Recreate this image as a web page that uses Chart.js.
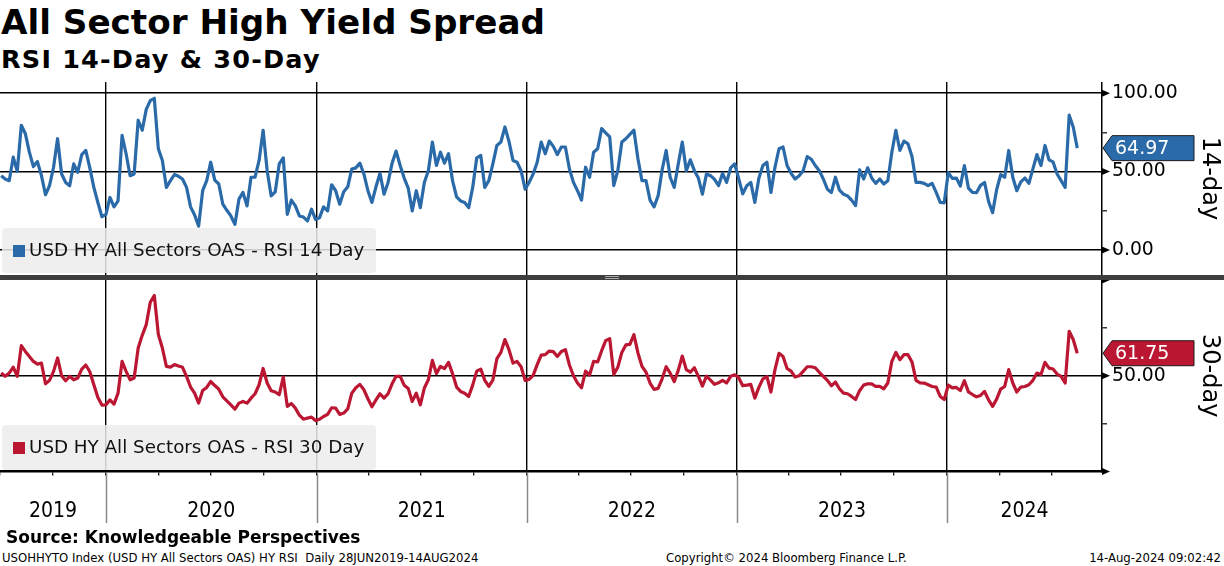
<!DOCTYPE html>
<html>
<head>
<meta charset="utf-8">
<script src="https://cdn.jsdelivr.net/npm/chart.js@4.4.1/dist/chart.umd.min.js"></script>
<style>
  body { margin: 0; width: 1224px; height: 566px; background: #fff; overflow: hidden; position: relative; color: #000; }
  .t { position: absolute; white-space: nowrap; }
  #title { left: 1px; top: 2px; font: bold 34.2px 'DejaVu Sans', sans-serif; }
  #subtitle { left: 1px; top: 44px; font: bold 25.5px 'DejaVu Sans', sans-serif; letter-spacing: 1.2px; }
  #source { left: 6px; top: 527px; font: bold 17px 'DejaVu Sans', sans-serif; }
  .foot { top: 550px; font: 13px 'DejaVu Sans Condensed', 'DejaVu Sans', sans-serif; }
  canvas { position: absolute; left: 0; }
  .legend { position: absolute; left: 2px; width: 374px; height: 45px; background: rgba(236,236,236,0.85); border-radius: 4px; }
  .legend span.box { position: absolute; left: 11px; top: 17px; width: 12px; height: 12px; }
  .legend span.txt { position: absolute; left: 27px; top: 11px; font: 18.3px 'DejaVu Sans', sans-serif; color: #111; white-space: nowrap; }
  #bar { position: absolute; left: 0; top: 275px; width: 1224px; height: 5px; background: #3e3e3e; }
  #grip { position: absolute; left: 605px; top: 276px; width: 14px; height: 1px; border-top: 1px solid #aaa; border-bottom: 1px solid #aaa; }
</style>
</head>
<body>
<div class="t" id="title">All Sector High Yield Spread</div>
<div class="t" id="subtitle">RSI 14-Day &amp; 30-Day</div>

<canvas id="c14" width="1224" height="193" style="top:82px"></canvas>
<canvas id="c30" width="1224" height="250" style="top:280px"></canvas>

<div id="bar"></div><div id="grip"></div>

<div class="legend" style="top:228px"><span class="box" style="background:#2a6aa8"></span><span class="txt">USD HY All Sectors OAS - RSI 14 Day</span></div>
<div class="legend" style="top:425px"><span class="box" style="background:#bb1632"></span><span class="txt">USD HY All Sectors OAS - RSI 30 Day</span></div>

<div class="t" id="source">Source: Knowledgeable Perspectives</div>
<div class="t foot" style="left:2px">USOHHYTO Index (USD HY All Sectors OAS) HY RSI&nbsp; Daily 28JUN2019-14AUG2024</div>
<div class="t foot" style="left:666px">Copyright© 2024 Bloomberg Finance L.P.</div>
<div class="t foot" style="right:3px">14-Aug-2024 09:02:42</div>

<script>
// weekly readings (Wednesdays), first week and the last point 14-Aug-2024
const firstWeek = "2019-07-03";
const axisStart = "2019-07-01";
const axisEnd = "2024-09-26";
const years = [2019, 2020, 2021, 2022, 2023, 2024];

const rsi14 = [
  47.4, 45.3, 44.2, 59.2, 50.2, 79.6, 74.2, 62.4, 53.2, 56.4,
  47.4, 35.2, 41.0, 52.8, 71.0, 48.5, 43.1, 41.0, 54.9, 49.6,
  60.9, 63.5, 52.4, 39.9, 30.3, 21.2, 22.7, 33.5, 27.5, 31.3,
  73.2, 61.4, 47.4, 48.5, 82.8, 76.4, 89.7, 95.3, 96.8, 64.6,
  57.1, 39.9, 44.2, 48.1, 47.0, 45.3, 39.9, 27.5, 22.3, 15.2,
  37.8, 44.2, 56.0, 44.6, 42.1, 29.2, 25.3, 21.7, 16.3, 32.4,
  36.7, 28.1, 46.4, 46.4, 57.1, 76.4, 50.6, 34.5, 37.1, 54.9,
  58.8, 22.7, 31.8, 28.1, 21.7, 21.0, 18.5, 26.0, 19.5, 20.6,
  27.5, 24.9, 41.6, 37.8, 29.2, 37.1, 40.3, 51.7, 52.4, 55.4,
  48.5, 37.8, 30.3, 40.3, 48.9, 35.6, 43.1, 55.4, 63.1, 53.9,
  45.9, 39.5, 24.9, 37.8, 27.0, 43.1, 50.6, 68.9, 53.9, 62.4,
  55.4, 61.4, 44.2, 33.9, 31.3, 30.3, 27.0, 39.9, 58.8, 60.3,
  39.9, 44.2, 54.9, 66.7, 68.9, 78.5, 69.3, 57.1, 56.0, 50.6,
  38.8, 43.1, 48.5, 56.0, 68.9, 61.4, 69.5, 66.1, 60.9, 65.7,
  65.7, 51.7, 43.1, 37.8, 31.8, 52.8, 46.4, 62.4, 64.6, 77.5,
  74.7, 72.1, 41.0, 50.6, 68.9, 71.0, 73.8, 76.4, 58.2, 44.2,
  44.2, 31.8, 27.5, 34.5, 51.1, 63.5, 46.4, 39.9, 54.9, 68.9,
  50.6, 57.5, 50.6, 45.9, 35.6, 48.5, 47.4, 45.1, 41.0, 48.9,
  43.1, 52.4, 54.9, 45.5, 35.8, 41.0, 43.1, 30.3, 45.7, 53.9,
  56.0, 36.7, 52.8, 64.6, 65.7, 53.9, 48.9, 45.3, 47.4, 50.6,
  59.6, 57.9, 53.9, 50.6, 45.3, 38.8, 36.7, 46.4, 38.2, 35.6,
  34.5, 31.8, 28.3, 51.1, 45.3, 52.4, 45.9, 42.5, 45.3, 42.1,
  44.2, 62.4, 76.4, 63.5, 69.5, 67.8, 59.6, 43.1, 43.1, 42.5,
  41.0, 42.5, 36.7, 30.3, 30.1, 49.4, 45.7, 45.9, 40.8, 53.9,
  39.5, 36.7, 36.5, 41.2, 43.1, 30.9, 23.8, 38.4, 48.1, 46.4,
  63.5, 46.4, 37.8, 43.4, 45.9, 42.5, 51.7, 60.9, 53.9, 66.7,
  57.5, 56.2, 48.5, 44.2, 39.9, 86.0, 78.5, 64.97
];

const rsi30 = [
  51.4, 49.7, 51.4, 54.5, 49.7, 65.7, 62.7, 60.1, 57.5, 56.1,
  56.6, 45.8, 47.6, 52.3, 59.3, 50.0, 47.4, 49.7, 47.9, 48.8,
  53.5, 55.6, 52.1, 45.3, 38.7, 34.7, 34.8, 37.4, 35.2, 40.9,
  57.5, 52.3, 47.9, 48.8, 64.5, 71.1, 76.7, 88.4, 91.9, 71.6,
  64.5, 54.9, 54.5, 55.8, 55.1, 54.4, 49.7, 44.1, 40.9, 35.7,
  42.3, 43.9, 47.0, 44.9, 43.0, 39.0, 36.9, 34.8, 32.6, 35.7,
  36.6, 35.7, 38.3, 40.6, 45.3, 53.8, 46.2, 42.2, 41.5, 40.1,
  49.3, 34.0, 35.5, 33.1, 29.4, 27.3, 27.9, 28.4, 26.6, 27.3,
  28.7, 29.8, 33.3, 33.1, 29.8, 30.5, 32.7, 40.9, 43.7, 45.5,
  42.7, 38.0, 33.8, 37.4, 40.6, 38.3, 40.6, 45.8, 49.7, 49.7,
  45.1, 43.4, 36.6, 40.9, 34.8, 43.6, 47.9, 58.0, 51.2, 54.9,
  53.7, 57.0, 51.1, 44.1, 41.8, 40.9, 39.2, 45.1, 52.4, 53.5,
  47.6, 44.4, 47.7, 58.9, 62.2, 68.9, 63.6, 56.6, 57.5, 54.7,
  47.6, 48.1, 50.2, 55.8, 60.8, 61.0, 62.9, 62.6, 60.0, 62.7,
  63.6, 55.6, 50.0, 46.2, 43.7, 52.4, 50.4, 57.5, 57.2, 63.1,
  68.3, 69.4, 50.7, 54.4, 62.2, 66.1, 66.4, 71.5, 61.9, 54.9,
  51.9, 46.2, 42.9, 43.4, 48.4, 54.7, 51.4, 46.9, 52.8, 60.3,
  53.2, 51.9, 54.2, 49.7, 44.6, 49.8, 47.7, 45.5, 46.3, 47.6,
  46.2, 49.7, 50.5, 49.0, 44.8, 45.1, 45.5, 38.3, 43.9, 48.4,
  49.5, 41.5, 53.2, 61.7, 60.1, 53.8, 52.4, 49.3, 50.0, 52.3,
  54.7, 54.7, 54.2, 51.8, 49.7, 47.6, 44.8, 46.7, 43.2, 40.9,
  40.6, 39.2, 37.6, 42.2, 45.1, 45.8, 45.8, 44.4, 44.4, 43.2,
  46.2, 57.5, 62.2, 58.4, 61.0, 61.0, 57.2, 47.6, 46.3, 46.2,
  45.3, 44.4, 44.1, 39.2, 37.6, 45.1, 43.7, 43.9, 42.3, 47.4,
  41.6, 40.2, 39.0, 39.7, 41.8, 37.4, 34.0, 37.8, 43.0, 44.4,
  53.2, 46.2, 41.5, 44.1, 44.4, 45.3, 47.6, 51.4, 50.7, 57.0,
  54.0, 53.5, 50.9, 49.7, 46.2, 73.2, 68.9, 61.75
];

const ticks14 = [0, 25, 50, 75, 100];
const labels14 = [0, 50, 100];
const ticks30 = [0, 25, 50, 75, 100];
const labels30 = [50];

const BLUE = "#2a6aa8";
const RED = "#bb1632";
const FONT = "'DejaVu Sans', sans-serif";
const FONT_C = "'DejaVu Sans Condensed', 'DejaVu Sans', sans-serif";

const DAY = 86400000;
const dayNum = s => Date.parse(s + "T00:00:00Z") / DAY;
const xMin = dayNum(axisStart);
const xMax = dayNum(axisEnd);
const weekDays = rsi14.map((v, i) => dayNum(firstWeek) + 7 * i);
const yearStarts = years.slice(1).map(y => dayNum(y + "-01-01"));

const points = vals => vals.map((v, i) => ({ x: weekDays[i], y: v }));

// quarter tick marks, year boundaries and centred year labels for the bottom axis
const bottomTicks = () => {
  const out = [];
  years.forEach(y => {
    ["-01-01", "-04-01", "-07-01", "-10-01"].forEach((q, k) => {
      const d = dayNum(y + q);
      if (d >= xMin && d <= xMax) out.push({ value: d, kind: k === 0 ? "year" : "quarter" });
    });
    const a = Math.max(dayNum(y + "-01-01"), xMin);
    const b = Math.min(dayNum((y + 1) + "-01-01"), xMax);
    out.push({ value: (a + b) / 2, kind: "label", text: String(y) });
  });
  return out.sort((p, q) => p.value - q.value);
};

const marks = {
  id: "marks",
  afterDraw(chart, args, o) {
    const { ctx, chartArea } = chart;
    const ys = chart.scales.y, xs = chart.scales.x;
    const r = chartArea.right;
    ctx.save();
    // arrow heads on the major ticks
    ctx.fillStyle = "#000";
    o.arrows.forEach(v => {
      const py = ys.getPixelForValue(v);
      ctx.beginPath();
      ctx.moveTo(r, py - 3.5);
      ctx.lineTo(r + 8, py);
      ctx.lineTo(r, py + 3.5);
      ctx.closePath();
      ctx.fill();
    });
    // last value tag
    const py = ys.getPixelForValue(o.value);
    const x0 = r + 1;
    ctx.beginPath();
    ctx.moveTo(x0, py);
    ctx.lineTo(x0 + 9, py - 12.5);
    ctx.lineTo(x0 + 91, py - 12.5);
    ctx.lineTo(x0 + 91, py + 12.5);
    ctx.lineTo(x0 + 9, py + 12.5);
    ctx.closePath();
    ctx.fillStyle = o.color;
    ctx.fill();
    ctx.strokeStyle = "#1b1b1b";
    ctx.lineWidth = 1;
    ctx.stroke();
    ctx.fillStyle = "#fff";
    ctx.font = "19px " + FONT;
    ctx.textAlign = "left";
    ctx.textBaseline = "middle";
    ctx.fillText(o.value.toFixed(2), x0 + 12, py + 1);
    // year separators under the time axis
    if (o.sepTo) {
      ctx.strokeStyle = "#8a8a8a";
      ctx.lineWidth = 1.5;
      yearStarts.forEach(d => {
        const px = Math.round(xs.getPixelForValue(d)) + 0.5;
        ctx.beginPath();
        ctx.moveTo(px, chartArea.bottom + 2);
        ctx.lineTo(px, o.sepTo);
        ctx.stroke();
      });
    }
    ctx.restore();
  }
};

const yAxis = (ticks, labels, title) => ({
  position: "right",
  afterBuildTicks: s => { s.ticks = ticks.map(v => ({ value: v })); },
  afterFit: s => { s.width = 122; s.paddingTop = 0; s.paddingBottom = 0; },
  ticks: {
    padding: 5,
    color: "#000",
    font: { family: FONT, size: 18.8 },
    callback: v => (labels.includes(v) ? v.toFixed(2) : "")
  },
  grid: {
    color: c => (labels.includes(c.tick.value) ? "#000" : "rgba(0,0,0,0)"),
    lineWidth: 1.6,
    tickLength: 5,
    tickColor: "#000",
    tickWidth: 1.2
  },
  border: { display: true, color: "#000", width: 1.5 },
  title: { display: true, text: title, color: "#000", font: { family: FONT, size: 24 }, padding: 0 }
});

const lineSet = (vals, color) => ({
  data: points(vals),
  borderColor: color,
  borderWidth: 3.2,
  pointRadius: 0,
  borderJoinStyle: "round",
  tension: 0
});

const common = {
  responsive: false,
  animation: false,
  events: [],
  layout: { padding: 0 }
};

new Chart(document.getElementById("c14"), {
  type: "line",
  data: { datasets: [lineSet(rsi14, BLUE)] },
  options: {
    ...common,
    plugins: {
      legend: { display: false },
      tooltip: { enabled: false },
      marks: { arrows: labels14, value: rsi14[rsi14.length - 1], color: BLUE }
    },
    scales: {
      x: {
        type: "linear", min: xMin, max: xMax,
        afterBuildTicks: s => { s.ticks = yearStarts.map(v => ({ value: v })); },
        afterFit: s => { s.height = 0; s.paddingLeft = 0; s.paddingRight = 0; },
        ticks: { display: false },
        grid: { color: "#000", lineWidth: 1.4, drawTicks: false },
        border: { display: false }
      },
      y: { ...yAxis(ticks14, labels14, "14-day"), min: -16, max: 107.2 }
    }
  },
  plugins: [marks]
});

new Chart(document.getElementById("c30"), {
  type: "line",
  data: { datasets: [lineSet(rsi30, RED)] },
  options: {
    ...common,
    plugins: {
      legend: { display: false },
      tooltip: { enabled: false },
      marks: { arrows: [0, 50, 100], value: rsi30[rsi30.length - 1], color: RED, sepTo: 243 }
    },
    scales: {
      x: {
        type: "linear", min: xMin, max: xMax,
        afterBuildTicks: s => { s.ticks = bottomTicks(); },
        afterFit: s => { s.height = 58.5; s.paddingLeft = 0; s.paddingRight = 0; },
        ticks: {
          autoSkip: false, maxRotation: 0, padding: 23,
          color: "#000",
          font: { family: FONT_C, size: 21 },
          callback: (v, i, t) => (t[i].kind === "label" ? t[i].text : "")
        },
        grid: {
          color: c => (c.tick.kind === "year" ? "#000" : "rgba(0,0,0,0)"),
          tickColor: c => (c.tick.kind === "label" ? "rgba(0,0,0,0)" : "#000"),
          lineWidth: 1.4,
          tickLength: 4,
          tickWidth: 1.2
        },
        border: { display: true, color: "#000", width: 2.5 }
      },
      y: { ...yAxis(ticks30, labels30, "30-day"), min: 0, max: 100 }
    }
  },
  plugins: [marks]
});
</script>
</body>
</html>
